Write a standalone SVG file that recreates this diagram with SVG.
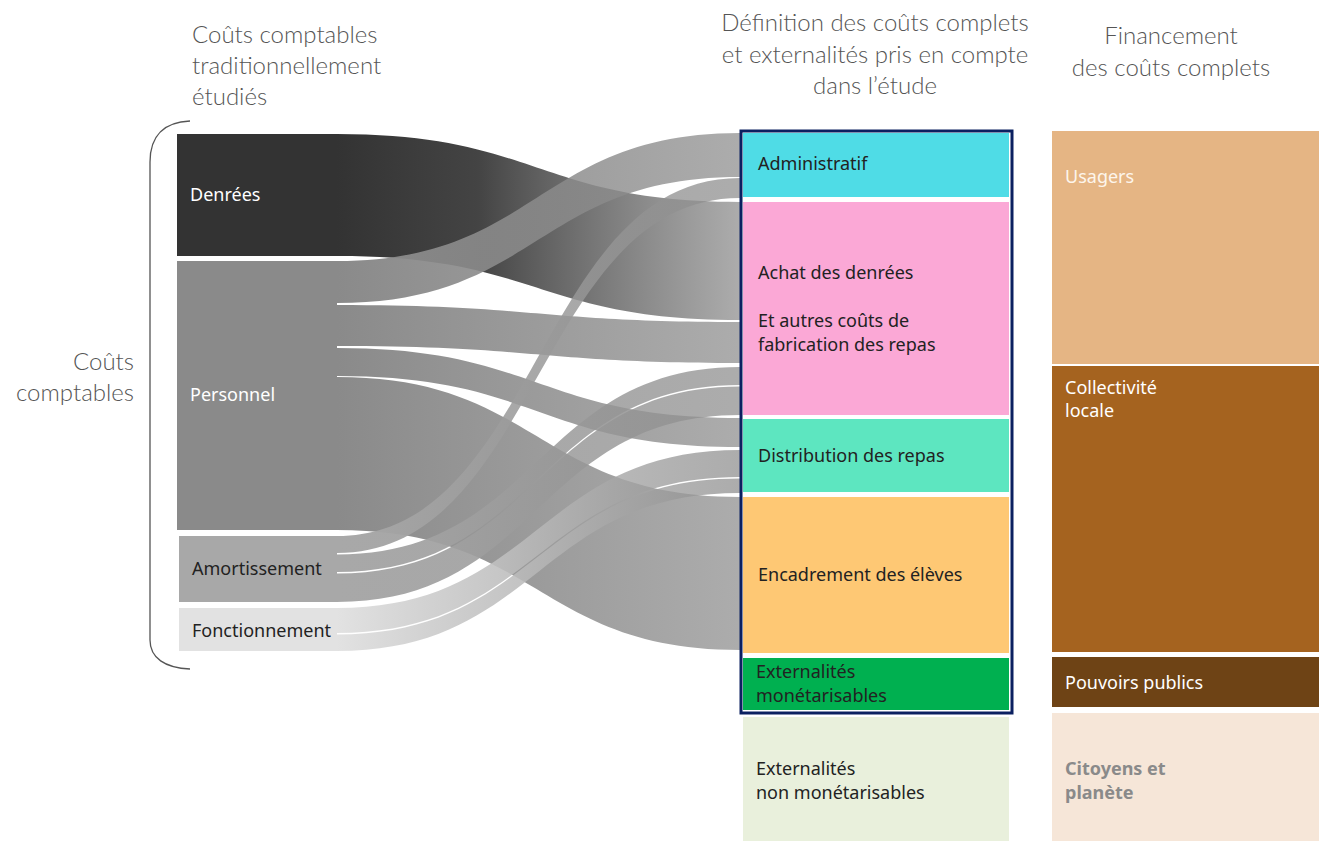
<svg xmlns="http://www.w3.org/2000/svg" width="1319" height="841" viewBox="0 0 1319 841">
<defs>
<style>
.hdr{font-family:"Source Sans Pro","Lato","Noto Sans",sans-serif;font-weight:300;font-size:24px;fill:#555555}
.lbl{font-family:"Noto Sans","Open Sans",sans-serif;font-size:18px}
.w{fill:#ffffff}
.d{fill:#222222}
.flow{stroke:none}
</style>
<linearGradient id="gD" gradientUnits="userSpaceOnUse" x1="337" y1="0" x2="740" y2="0">
<stop offset="0" stop-color="#333333" stop-opacity="1"/>
<stop offset="0.35" stop-color="#3a3a3a" stop-opacity="0.95"/>
<stop offset="1" stop-color="#8c8c8c" stop-opacity="0.72"/>
</linearGradient>
<linearGradient id="gP" gradientUnits="userSpaceOnUse" x1="337" y1="0" x2="740" y2="0">
<stop offset="0" stop-color="#8a8a8a" stop-opacity="1"/>
<stop offset="1" stop-color="#8c8c8c" stop-opacity="0.72"/>
</linearGradient>
<linearGradient id="gA" gradientUnits="userSpaceOnUse" x1="337" y1="0" x2="740" y2="0">
<stop offset="0" stop-color="#a8a8a8" stop-opacity="1"/>
<stop offset="1" stop-color="#8c8c8c" stop-opacity="0.72"/>
</linearGradient>
<linearGradient id="gF" gradientUnits="userSpaceOnUse" x1="337" y1="0" x2="740" y2="0">
<stop offset="0" stop-color="#e2e2e2" stop-opacity="1"/>
<stop offset="1" stop-color="#8c8c8c" stop-opacity="0.72"/>
</linearGradient>
</defs>
<rect x="0" y="0" width="1319" height="841" fill="#ffffff"/>

<g id="headers">
<text class="hdr" x="192" y="43">Coûts comptables</text>
<text class="hdr" x="192" y="74">traditionnellement</text>
<text class="hdr" x="192" y="105">étudiés</text>
<text class="hdr" x="875" y="31" text-anchor="middle">Définition des coûts complets</text>
<text class="hdr" x="875" y="63" text-anchor="middle">et externalités pris en compte</text>
<text class="hdr" x="875" y="94" text-anchor="middle">dans l’étude</text>
<text class="hdr" x="1171" y="44" text-anchor="middle">Financement</text>
<text class="hdr" x="1171" y="76" text-anchor="middle">des coûts complets</text>
</g>

<g id="bracket">
<path d="M190,121 C165,122 150,135 150,162 L150,640 C150,658 165,668 190,669" fill="none" stroke="#555555" stroke-width="1.3"/>
<text class="hdr" x="134" y="370" text-anchor="end">Coûts</text>
<text class="hdr" x="134" y="401" text-anchor="end">comptables</text>
</g>

<g id="connectors">
<path class="flow" fill="url(#gD)" d="M337,134 C538,134 538,202 740,202 L740,320 C538,320 538,256 337,256 Z"/>
<path class="flow" fill="url(#gP)" d="M337,261 C538,261 538,133 740,133 L740,177 C538,177 538,303 337,303 Z"/>
<path class="flow" fill="url(#gP)" d="M337,305 C538,305 538,322 740,322 L740,363 C538,363 538,346 337,346 Z"/>
<path class="flow" fill="url(#gP)" d="M337,348 C538,348 538,418 740,418 L740,447 C538,447 538,376 337,376 Z"/>
<path class="flow" fill="url(#gP)" d="M337,377 C538,377 538,497 740,497 L740,650 C538,650 538,530 337,530 Z"/>
<path class="flow" fill="url(#gA)" d="M337,536 C538,536 538,178 740,178 L740,198 C538,198 538,553 337,553 Z"/>
<path class="flow" fill="url(#gA)" d="M337,554.5 C538,554.5 538,367 740,367 L740,385 C538,385 538,572 337,572 Z"/>
<path class="flow" fill="url(#gA)" d="M337,573.5 C538,573.5 538,386.5 740,386.5 L740,415 C538,415 538,602 337,602 Z"/>
<path class="flow" fill="url(#gF)" d="M337,608 C538,608 538,450 740,450 L740,477 C538,477 538,633 337,633 Z"/>
<path class="flow" fill="url(#gF)" d="M337,634.5 C538,634.5 538,478.5 740,478.5 L740,493 C538,493 538,651 337,651 Z"/>
</g>

<g id="node-denrees">
<rect x="177" y="134" width="160" height="122" fill="#333333"/>
<text class="lbl w" x="190" y="201">Denrées</text>
</g>
<g id="node-personnel">
<rect x="177" y="261" width="160" height="269" fill="#8a8a8a"/>
<text class="lbl w" x="190" y="401">Personnel</text>
</g>
<g id="node-amortissement">
<rect x="179" y="536" width="158" height="66" fill="#a8a8a8"/>
<text class="lbl d" x="192" y="575">Amortissement</text>
</g>
<g id="node-fonctionnement">
<rect x="179" y="608" width="158" height="43" fill="#e2e2e2"/>
<text class="lbl d" x="192" y="637">Fonctionnement</text>
</g>

<g id="node-administratif">
<rect x="743" y="133" width="266" height="64" fill="#4fdce6"/>
<text class="lbl d" x="758" y="170">Administratif</text>
</g>
<g id="node-achat">
<rect x="743" y="202" width="266" height="213" fill="#fba8d6"/>
<text class="lbl d" x="758" y="279">Achat des denrées</text>
<text class="lbl d" x="758" y="327">Et autres coûts de</text>
<text class="lbl d" x="758" y="351">fabrication des repas</text>
</g>
<g id="node-distribution">
<rect x="743" y="419" width="266" height="73" fill="#5de6c0"/>
<text class="lbl d" x="758" y="462">Distribution des repas</text>
</g>
<g id="node-encadrement">
<rect x="743" y="497" width="266" height="156" fill="#fec874"/>
<text class="lbl d" x="758" y="581">Encadrement des élèves</text>
</g>
<g id="node-ext-monet">
<rect x="743" y="658" width="266" height="52" fill="#00b050"/>
<text class="lbl d" x="756" y="678">Externalités</text>
<text class="lbl d" x="756" y="702">monétarisables</text>
</g>
<g id="frame">
<rect x="741" y="131" width="271" height="582" fill="none" stroke="#0b2060" stroke-width="3"/>
</g>
<g id="node-ext-non-monet">
<rect x="743" y="717" width="266" height="124" fill="#e9f0dc"/>
<text class="lbl d" x="756" y="775">Externalités</text>
<text class="lbl d" x="756" y="799">non monétarisables</text>
</g>

<g id="node-usagers">
<rect x="1052" y="131" width="267" height="233" fill="#e5b584"/>
<text class="lbl" x="1065" y="183" fill="#fdf5ec">Usagers</text>
</g>
<g id="node-collectivite">
<rect x="1052" y="366" width="267" height="286" fill="#a5631f"/>
<text class="lbl w" x="1065" y="394">Collectivité</text>
<text class="lbl w" x="1065" y="417">locale</text>
</g>
<g id="node-pouvoirs">
<rect x="1052" y="657" width="267" height="50" fill="#6e4315"/>
<text class="lbl w" x="1065" y="689">Pouvoirs publics</text>
</g>
<g id="node-citoyens">
<rect x="1052" y="713" width="267" height="128" fill="#f6e6d8"/>
<text class="lbl" x="1065" y="775" fill="#8a8a8a" font-weight="bold">Citoyens et</text>
<text class="lbl" x="1065" y="799" fill="#8a8a8a" font-weight="bold">planète</text>
</g>
</svg>
